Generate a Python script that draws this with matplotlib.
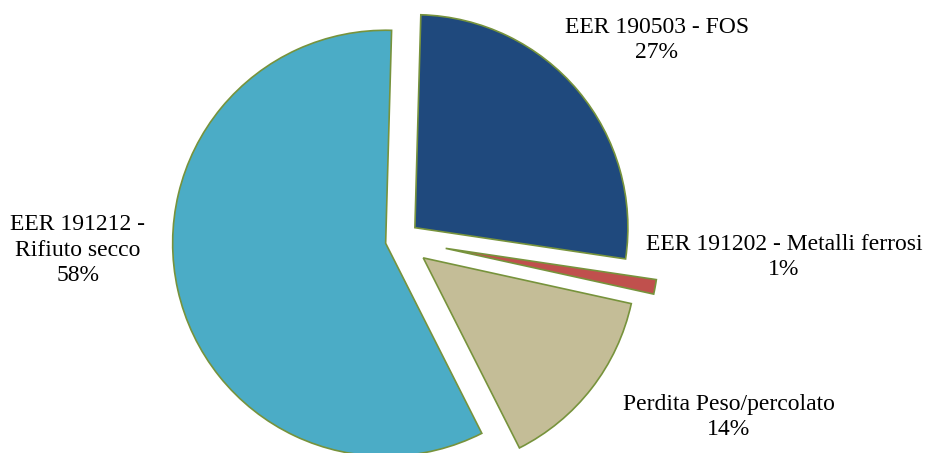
import matplotlib.pyplot as plt

# Dati (percentuali)
categorie = ['EER 190503 - FOS', 'EER 191202 - Metalli ferrosi',
             'Perdita Peso/percolato', 'EER 191212 -\nRifiuto secco']
valori = [26.9, 1.1, 14.1, 57.9]
colori = ['#1F497D', '#C0504D', '#C4BD97', '#4BACC6']
esplosione = [0.09, 0.217, 0.137, 0.07]  # frazione del raggio

# posizioni delle etichette (pixel immagine, y dall'alto)
pos_etichette = [(657, 40), (784, 257), (729, 417), (78, 250)]

W, H = 927, 453
raggio = 213
fig = plt.figure(figsize=(W / 100, H / 100), dpi=100)
ax = fig.add_axes([0, 0, 1, 1])

ax.pie(valori, colors=colori, explode=[e * raggio for e in esplosione],
       startangle=88.4, counterclock=False, center=(400.2, H - 240.0),
       radius=raggio, wedgeprops=dict(edgecolor='#77933C', linewidth=1.2))
ax.set_xlim(0, W)
ax.set_ylim(0, H)
ax.axis('off')

totale = sum(valori)
for nome, v, (x, y) in zip(categorie, valori, pos_etichette):
    testo = f'{nome}\n{round(v / totale * 100)}%'
    ax.text(x, H - y, testo, ha='center', va='center', fontsize=17,
            family='Liberation Serif', linespacing=1.3, color='black')

fig.savefig('out.png', dpi=100)
